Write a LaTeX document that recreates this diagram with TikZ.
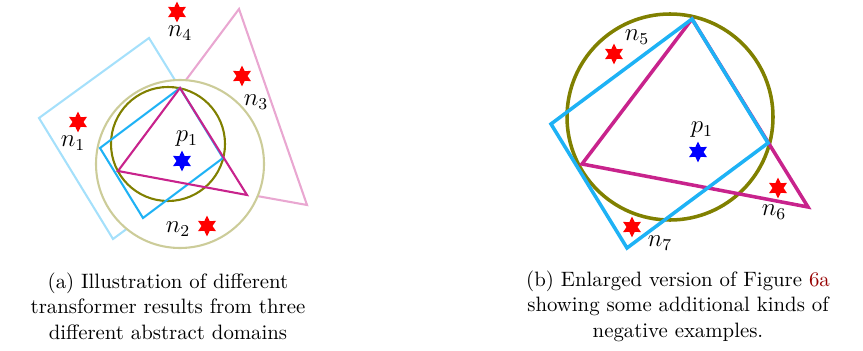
\documentclass[tikz,border=0pt]{standalone}
\usepackage{tikz}
\usetikzlibrary{shapes.geometric,positioning}
\definecolor{BoxBlue}{RGB}{30,178,245}
\definecolor{TriMagenta}{RGB}{200,35,140}
\definecolor{BallOlive}{RGB}{128,128,0}
\definecolor{LinkRed}{RGB}{150,0,0}
\tikzset{
  negstar/.style={star,star points=6,star point ratio=1.9,fill=red,draw=none,inner sep=0pt,minimum size=10pt},
  posstar/.style={negstar,fill=blue},
  lbl/.style={font=\large},
  caption/.style={align=center,font=\fontsize{10}{12.2}\selectfont}
}
\begin{document}
\begin{tikzpicture}[x=0.4808pt,y=-0.4808pt]
  \useasboundingbox (0,0) rectangle (863,351);
  % (a) three abstract domains
  \coordinate (A) at (180,88);  \coordinate (B) at (223,158);
  \coordinate (C) at (143,218); \coordinate (D) at (100,148);
  \coordinate (T) at (118,171); \coordinate (U) at (247,195);
  \draw[BoxBlue!40,line width=1pt] (39,118)--(149,38)--(B)--(113,239)--cycle;
  \draw[TriMagenta!40,line width=1pt] (T)--(239,9)--(307,205)--cycle;
  \draw[BallOlive!40,line width=1pt,fill=white] (180,164) circle (84);
  \draw[BallOlive,line width=1pt] (168,144) circle (57);
  \draw[BoxBlue,line width=1pt] (A)--(B)--(C)--(D)--cycle;
  \draw[TriMagenta,line width=1pt] (A)--(T)--(U)--cycle;
  \node[posstar] (p) at (182,161) {};
  \node[lbl] (pl) at (187,139) {$p_1$};
  \node[negstar] (s1) at (78,122) {};  \node[lbl] (n1) at (73,143) {$n_1$};
  \node[negstar] (s2) at (207,226) {}; \node[lbl] (n2) at (178,229) {$n_2$};
  \node[negstar] (s3) at (242,76) {};  \node[lbl] (n3) at (256,102) {$n_3$};
  \node[negstar] (s4) at (177,12) {};  \node[lbl] (n4) at (180,33) {$n_4$};
  % (b) enlarged view
  \coordinate (A') at (692,19);  \coordinate (B') at (768,143);
  \coordinate (C') at (627,248); \coordinate (D') at (551,124);
  \coordinate (T') at (582,164); \coordinate (U') at (808,207);
  \draw[BallOlive,line width=1.7pt] (670,117) circle (103);
  \draw[TriMagenta,line width=1.7pt] (A')--(T')--(U')--cycle;
  \draw[BoxBlue,line width=1.7pt] (A')--(B')--(C')--(D')--cycle;
  \node[posstar] (q) at (698,152) {};
  \node[lbl] (ql) at (702,130) {$p_1$};
  \node[negstar] (s5) at (614,54) {};  \node[lbl] (n5) at (637,37) {$n_5$};
  \node[negstar] (s6) at (778,188) {}; \node[lbl] (n6) at (774,212) {$n_6$};
  \node[negstar] (s7) at (632,227) {}; \node[lbl] (n7) at (660,243) {$n_7$};
  % captions
  \node[caption] (capa) at (168,306) {(a) Illustration of different\\transformer results from three\\different abstract domains};
  \node[caption] (capb) at (678,306) {(b) Enlarged version of Figure \textcolor{LinkRed}{6a}\\showing some additional kinds of\\negative examples.};
\end{tikzpicture}
\end{document}
